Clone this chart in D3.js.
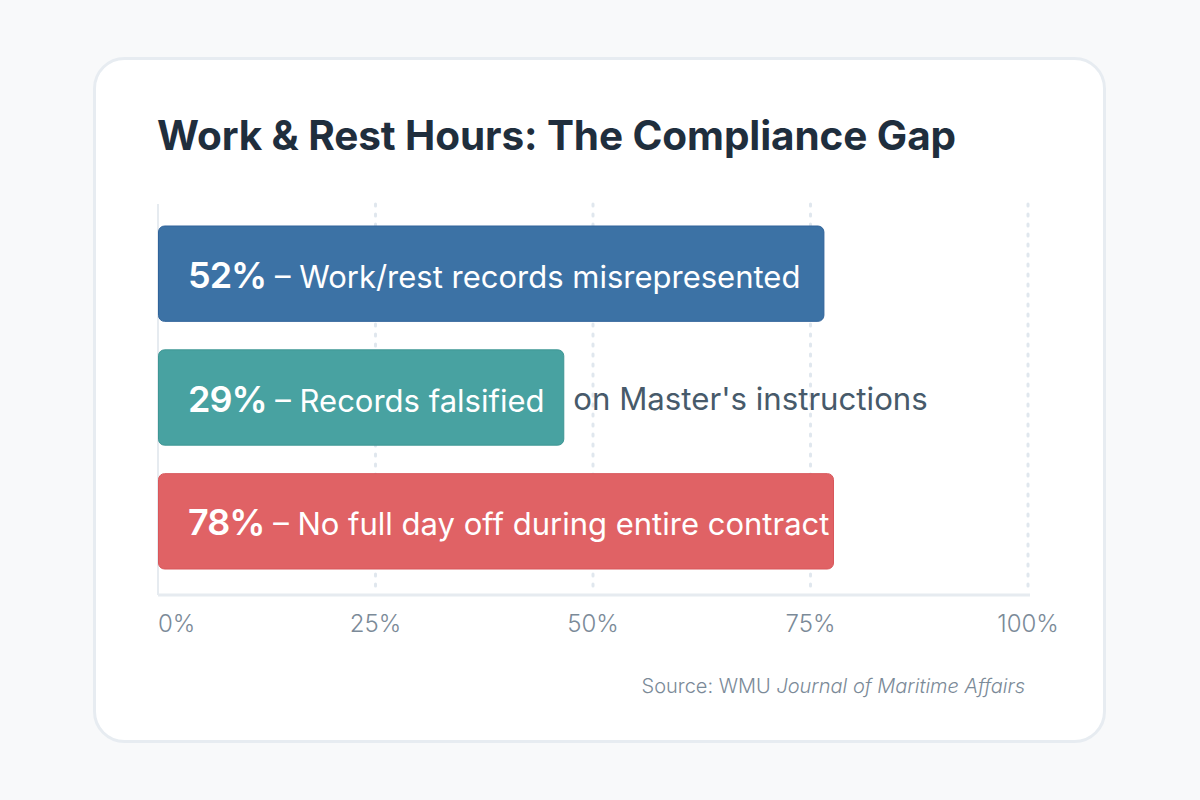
<!DOCTYPE html>
<html>
<head>
<meta charset="utf-8">
<script src="https://cdn.jsdelivr.net/npm/d3@7"></script>
<style>
  html, body { margin: 0; padding: 0; background: #f8f9fa; }
  svg { display: block; font-family: Inter, "Noto Sans", sans-serif; }
</style>
</head>
<body>
<svg id="chart" width="1200" height="800"></svg>
<script>
// values
const categories = ["misrepresented", "falsified", "noDayOff"];
const percents = [52, 29, 78];
// bar lengths as drawn (they don't follow the labels exactly)
const barLengths = [76.6, 46.7, 77.7];
const insideText = ["Work/rest records misrepresented", "Records falsified", "No full day off during entire contract"];
const outsideText = ["", "on Master's instructions", ""];
const colors = ["#3c72a5", "#48a2a1", "#e06265"];
const strokes = ["#30639a", "#3e9694", "#d8575b"];
const tickValues = [0, 25, 50, 75, 100];

const svg = d3.select("#chart");

// card
svg.append("rect")
  .attr("x", 94.5).attr("y", 58.5)
  .attr("width", 1010).attr("height", 683)
  .attr("rx", 30)
  .attr("fill", "#ffffff")
  .attr("stroke", "#e7ecf1")
  .attr("stroke-width", 3);

svg.append("text")
  .attr("x", 157).attr("y", 150)
  .attr("fill", "#1f2e3d")
  .attr("font-size", 40.5)
  .attr("font-weight", 700)
  .attr("letter-spacing", -0.1)
  .text("Work & Rest Hours: The Compliance Gap");

const x = d3.scaleLinear().domain([0, 100]).range([158, 1028]);
const y = d3.scaleBand().domain(categories).range([226, 569]).paddingInner(0.23).paddingOuter(0);

const gridTop = 204, gridBottom = 595;

// dotted gridlines
svg.append("g")
  .selectAll("line")
  .data(tickValues.filter(d => d > 0))
  .join("line")
  .attr("x1", d => x(d)).attr("x2", d => x(d))
  .attr("y1", gridTop).attr("y2", gridBottom - 4)
  .attr("stroke", "#e0e7ee")
  .attr("stroke-width", 3)
  .attr("stroke-linecap", "round")
  .attr("stroke-dasharray", "2 8");

// left axis line + baseline
svg.append("line")
  .attr("x1", x(0)).attr("x2", x(0))
  .attr("y1", gridTop).attr("y2", gridBottom)
  .attr("stroke", "#e6ebf0").attr("stroke-width", 2);
svg.append("line")
  .attr("x1", x(0)).attr("x2", x(100) + 2)
  .attr("y1", gridBottom).attr("y2", gridBottom)
  .attr("stroke", "#e6ebf0").attr("stroke-width", 3);

// bars
svg.append("g")
  .selectAll("rect")
  .data(categories)
  .join("rect")
  .attr("x", x(0) + 0.5)
  .attr("y", d => y(d))
  .attr("width", (d, i) => x(barLengths[i]) - x(0) - 1)
  .attr("height", y.bandwidth())
  .attr("rx", 6)
  .attr("fill", (d, i) => colors[i])
  .attr("stroke", (d, i) => strokes[i])
  .attr("stroke-width", 1);

// labels inside bars
const labels = svg.append("g")
  .selectAll("text")
  .data(categories)
  .join("text")
  .attr("x", x(0) + 30)
  .attr("y", d => y(d) + y.bandwidth() / 2 + 14)
  .attr("fill", "#ffffff");

labels.append("tspan")
  .attr("font-size", 36)
  .attr("font-weight", 600)
  .attr("letter-spacing", -1)
  .text((d, i) => percents[i] + "%");
labels.append("tspan")
  .attr("font-size", 31)
  .text((d, i) => " \u2013 " + insideText[i]);

// spill-over text next to bar
svg.append("g")
  .selectAll("text")
  .data(categories.filter((d, i) => outsideText[i]))
  .join("text")
  .attr("x", d => x(barLengths[categories.indexOf(d)]) + 9)
  .attr("y", d => y(d) + y.bandwidth() / 2 + 12)
  .attr("fill", "#475a6a")
  .attr("font-size", 31.2)
  .text(d => outsideText[categories.indexOf(d)]);

// tick labels
svg.append("g")
  .selectAll("text")
  .data(tickValues)
  .join("text")
  .attr("x", d => x(d))
  .attr("y", 632)
  .attr("text-anchor", d => d === 0 ? "start" : "middle")
  .attr("fill", "#7b8a98")
  .attr("font-size", 24)
  .attr("font-weight", 300)
  .text(d => d + "%");

// source
const src = svg.append("text")
  .attr("x", 1025).attr("y", 693)
  .attr("text-anchor", "end")
  .attr("fill", "#7b8a98")
  .attr("font-size", 20)
  .attr("font-weight", 300);
src.append("tspan").text("Source: WMU ");
src.append("tspan").attr("font-style", "italic").text("Journal of Maritime Affairs");
</script>
</body>
</html>
